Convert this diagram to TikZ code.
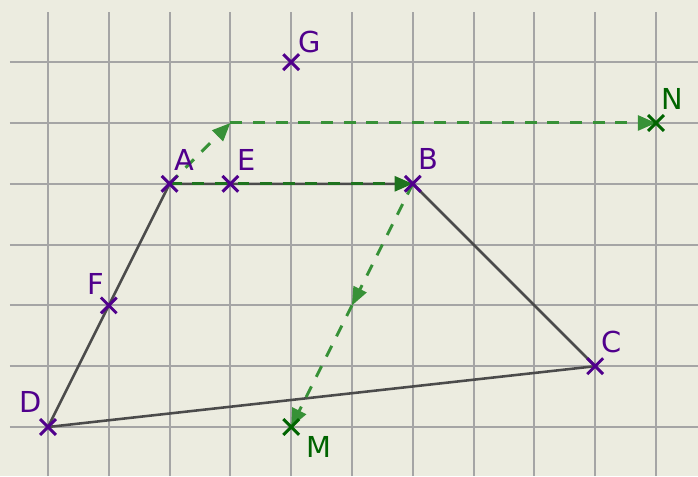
\documentclass[tikz,border=0pt]{standalone}
\usepackage{fontspec}
\setmainfont{DejaVu Sans}
\usetikzlibrary{arrows.meta,decorations.markings,calc}
\definecolor{bgc}{RGB}{236,236,224}
\definecolor{gridc}{RGB}{165,165,165}
\definecolor{polyc}{RGB}{75,75,75}
\definecolor{ptc}{RGB}{80,0,140}
\definecolor{greenpt}{RGB}{0,100,0}
\definecolor{vecc}{RGB}{55,145,55}
\definecolor{vecdark}{RGB}{30,115,30}
\tikzset{
  gridline/.style={draw=gridc, line width=0.9pt},
  poly/.style={draw=polyc, line width=1.2pt},
  vec/.style={draw=vecc, line width=1.4pt, dash pattern=on 5.6pt off 5pt, -{Triangle[length=8.5pt,width=7pt]}},
  crossmark/.style={line width=1.4pt},
  lbl/.style={font=\fontsize{13.5}{15}\selectfont, inner sep=0pt}
}
\begin{document}
\begin{tikzpicture}[x=1cm,y=1cm]
\useasboundingbox[fill=bgc] (-0.789,-0.806) rectangle (10.691,7.023);
% grid
\foreach \i in {0,...,10} \draw[gridline] (\i,-0.806) -- (\i,6.826);
\foreach \j in {0,...,6} \draw[gridline] (-0.625,\j) -- (10.691,\j);
% points
\coordinate (D) at (0,0);
\coordinate (F) at (1,2);
\coordinate (A) at (2,4);
\coordinate (E) at (3,4);
\coordinate (B) at (6,4);
\coordinate (C) at (9,1);
\coordinate (M) at (4,0);
\coordinate (G) at (4,6);
\coordinate (N) at (10,5);
\coordinate (P) at (3,5);
% polygon
\draw[poly] (A) -- (B) -- (C) -- (D) -- cycle;
% vectors
\draw[vec, draw=vecdark] (A) -- (B);
\draw[vec] (A) -- (P);
\draw[vec] (P) -- (N);
\draw[vec, postaction={decorate}, decoration={markings, mark=at position 0.5 with {\fill[vecc] (0,0) -- (-8.5pt,3.5pt) -- (-8.5pt,-3.5pt) -- cycle;}}] (B) -- (M);
% crosses
\foreach \p in {A,B,C,D,E,F,G}
  \draw[crossmark, ptc] ($(\p)+(-0.13,-0.13)$) -- ($(\p)+(0.13,0.13)$) ($(\p)+(-0.13,0.13)$) -- ($(\p)+(0.13,-0.13)$);
\foreach \p in {M,N}
  \draw[crossmark, greenpt] ($(\p)+(-0.13,-0.13)$) -- ($(\p)+(0.13,0.13)$) ($(\p)+(-0.13,0.13)$) -- ($(\p)+(0.13,-0.13)$);
% labels
\node[lbl, text=ptc] (lA) at ($(A)+(0.25,0.39)$) {A};
\node[lbl, text=ptc] (lE) at ($(E)+(0.26,0.39)$) {E};
\node[lbl, text=ptc] (lB) at ($(B)+(0.25,0.41)$) {B};
\node[lbl, text=ptc] (lC) at ($(C)+(0.27,0.39)$) {C};
\node[lbl, text=ptc] (lG) at ($(G)+(0.30,0.33)$) {G};
\node[lbl, text=ptc] (lD) at ($(D)+(-0.28,0.41)$) {D};
\node[lbl, text=ptc] (lF) at ($(F)+(-0.22,0.36)$) {F};
\node[lbl, text=greenpt] (lN) at ($(N)+(0.27,0.39)$) {N};
\node[lbl, text=greenpt] (lM) at ($(M)+(0.46,-0.33)$) {M};
\end{tikzpicture}
\end{document}
